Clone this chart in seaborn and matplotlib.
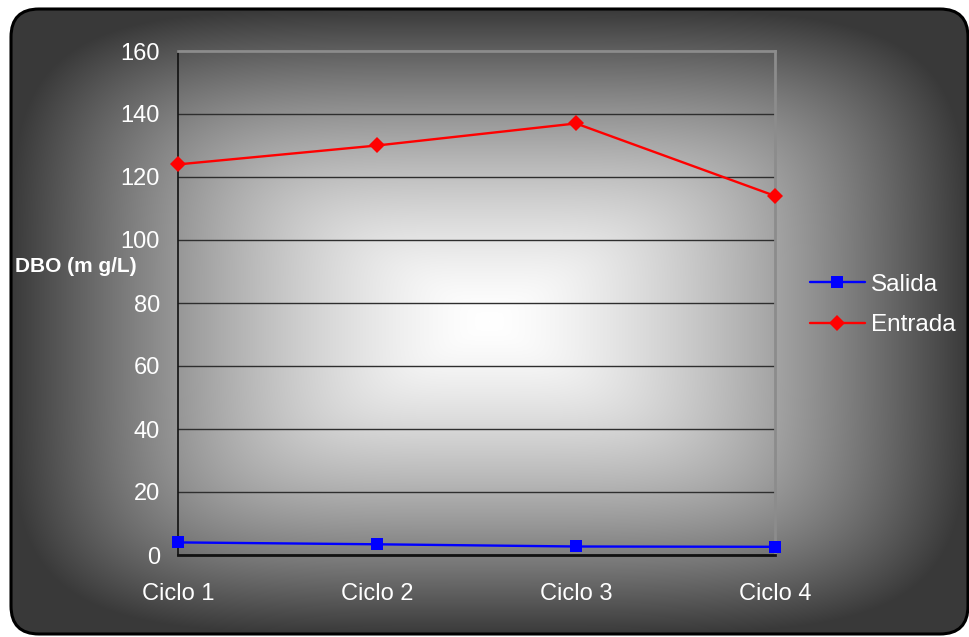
import numpy as np
import pandas as pd
import matplotlib
matplotlib.use("Agg")
import matplotlib.pyplot as plt
from matplotlib.patches import FancyBboxPatch
from matplotlib.lines import Line2D
import seaborn as sns

# Data
ciclos = ["Ciclo 1", "Ciclo 2", "Ciclo 3", "Ciclo 4"]
salida = [4.0, 3.4, 2.7, 2.6]
entrada = [124, 130, 137, 114]
y_ticks = [0, 20, 40, 60, 80, 100, 120, 140, 160]

df = pd.DataFrame({
    "Ciclo": ciclos * 2,
    "DBO": salida + entrada,
    "Serie": ["Salida"] * len(ciclos) + ["Entrada"] * len(ciclos),
})

sns.set_theme(style="white")
plt.rcParams["font.family"] = ["Liberation Sans", "DejaVu Sans"]

W, H = 969, 637
fig = plt.figure(figsize=(W / 100, H / 100), dpi=100)
fig.patch.set_facecolor("white")

# Shaded backdrop: rounded-rectangle "from centre" gradient inside a rounded frame
fx0, fy0, fw, fh = 11, 9, 957, 625
bg = fig.add_axes([0, 0, 1, 1], zorder=0)
bg.set_xlim(0, W)
bg.set_ylim(H, 0)
bg.axis("off")
xx, yy = np.meshgrid(np.arange(W) + 0.5, np.arange(H) + 0.5)
cx, cy = fx0 + fw / 2, fy0 + fh / 2
dx = np.abs(xx - cx) / (fw / 2)
dy = np.abs(yy - cy) / (fh / 2)
p = 5.0
t = np.clip((dx ** p + dy ** p) ** (1 / p), 0, 1)
val = (255 - 198 * t ** 1.5) / 255.0
img = np.dstack([val, val, val])
im = bg.imshow(img, extent=(0, W, H, 0), interpolation="bilinear", zorder=0)
frame = FancyBboxPatch((fx0, fy0), fw, fh, boxstyle="round,pad=0,rounding_size=28",
                       transform=bg.transData, facecolor="none", edgecolor="black",
                       linewidth=2.2, zorder=2)
bg.add_patch(frame)
im.set_clip_path(frame)

# Plot area
left, right, top, bottom = 178, 775, 51, 555
ax = fig.add_axes([left / W, (H - bottom) / H, (right - left) / W, (bottom - top) / H], zorder=1)
ax.set_facecolor("none")

sns.lineplot(data=df, x="Ciclo", y="DBO", hue="Serie", style="Serie",
             palette={"Salida": "#0000ff", "Entrada": "#ff0000"},
             markers={"Salida": "s", "Entrada": "D"}, dashes=False,
             markeredgewidth=0, linewidth=1.7, ax=ax, legend=False)
for ln in ax.lines:
    ln.set_markersize(8)
    ln.set_clip_on(False)
    ln.set_zorder(4)

ax.set_xlim(0, 3)
ax.set_ylim(0, 160)
ax.set_yticks(y_ticks)
ax.set_yticklabels([str(v) for v in y_ticks], color="white", fontsize=17)
ax.set_xticks(range(len(ciclos)))
ax.set_xticklabels(ciclos, color="white", fontsize=17)
ax.tick_params(axis="y", direction="out", length=5, width=1.2, color="#222222", pad=8)
ax.tick_params(axis="x", direction="out", length=6, width=1.2, color="#111111", pad=14)
ax.set_xlabel("")
ax.set_ylabel("")
ax.grid(axis="y", color="#2e2e2e", linewidth=1.0)
ax.grid(axis="x", visible=False)
ax.set_axisbelow(True)
for side in ["top", "right"]:
    ax.spines[side].set_color("#8c8c8c")
    ax.spines[side].set_linewidth(2.0)
ax.spines["left"].set_color("#111111")
ax.spines["left"].set_linewidth(1.2)
ax.spines["bottom"].set_color("#111111")
ax.spines["bottom"].set_linewidth(2.0)
for s in ax.spines.values():
    s.set_visible(True)

fig.text(15 / W, 1 - 267 / H, "DBO (m g/L)", color="white", fontsize=15,
         fontweight="bold", ha="left", va="center")

handles = [
    Line2D([], [], color="#0000ff", marker="s", markersize=8, markeredgewidth=0, linewidth=1.7),
    Line2D([], [], color="#ff0000", marker="D", markersize=8, markeredgewidth=0, linewidth=1.7),
]
leg = fig.legend(handles, ["Salida", "Entrada"], loc="center left",
                 bbox_to_anchor=(810 / W, 1 - 305 / H), frameon=False,
                 fontsize=17.5, labelcolor="white", handlelength=2.25,
                 handletextpad=0.25, labelspacing=0.78, borderpad=0, borderaxespad=0)

fig.savefig("out.png", dpi=100)
